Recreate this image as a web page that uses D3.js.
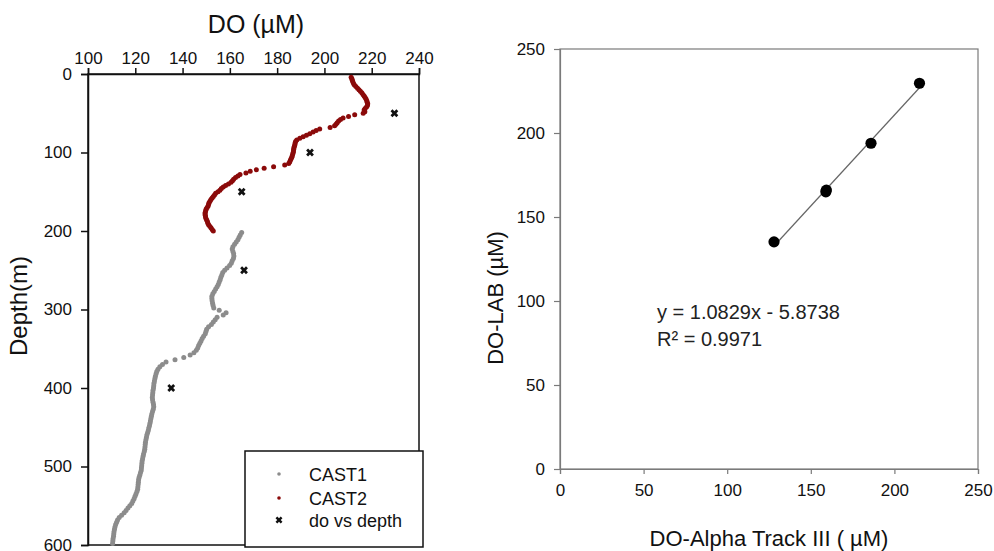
<!DOCTYPE html>
<html><head><meta charset="utf-8">
<script src="https://cdn.jsdelivr.net/npm/d3@7/dist/d3.min.js"></script>
<style>
body{margin:0;background:#fff;}
svg text{font-family:"Liberation Sans",Arial,sans-serif;}
</style></head>
<body><svg id="c" width="994" height="551"></svg>
<script>
// ---------- DATA ----------
// CAST2 profile: [depth (m), DO (µM)]
const cast2 = [[4,211.3],[6,211.6],[8,211.8],[10,212.0],[12,212.3],[14,212.7],[16,213.3],[18,214.0],[20,214.6],[22,215.2],[24,215.8],[26,216.3],[28,216.8],[30,217.2],[32,217.6],[34,217.9],[36,218.1],[38,218.3],[40,218.2],[42,217.8],[44,217.2],[46,216.8],[48,217.1],[50,216.4],[52,212.8],[54,210.2],[56,207.9],[58,206.8],[60,206.0],[62,205.4],[64,204.9],[66,204.3],[68,202.4],[70,198.0],[72,196.5],[74,195.2],[76,193.8],[78,192.4],[80,191.0],[82,189.6],[84,188.3],[86,187.8],[88,187.6],[90,187.5],[92,187.3],[94,187.1],[96,187.0],[98,186.9],[100,186.8],[102,186.6],[104,186.4],[106,186.2],[108,185.9],[110,185.6],[112,185.3],[114,184.9],[116,183.2],[118,178.5],[120,174.5],[122,171.2],[124,168.6],[126,166.8],[128,164.3],[130,163.4],[132,162.4],[134,161.6],[136,161.1],[138,160.5],[140,159.4],[142,158.2],[144,157.2],[146,156.4],[148,155.8],[150,155.0],[152,154.0],[154,153.5],[156,153.0],[158,152.5],[160,152.0],[162,151.6],[164,151.2],[166,151.0],[168,150.8],[170,150.4],[172,150.0],[174,149.8],[176,149.6],[178,149.5],[180,149.6],[182,149.7],[184,149.9],[186,150.2],[188,150.5],[190,150.7],[192,151.0],[194,151.5],[196,152.0],[198,152.5],[200,153.0]];
// CAST1 profile: [depth (m), DO (µM)]
const cast1 = [[202,165.0],[205,164.4],[208,163.9],[211,163.4],[214,162.7],[217,162.0],[220,161.3],[223,161.0],[226,161.3],[229,161.6],[232,161.7],[235,161.5],[238,161.0],[241,160.6],[244,159.9],[247,158.8],[250,157.8],[253,157.0],[256,156.6],[259,156.2],[262,155.9],[265,155.5],[268,155.1],[271,154.6],[274,154.0],[277,153.4],[280,152.8],[283,152.4],[286,152.4],[289,152.5],[292,152.7],[295,152.9],[298,153.2],[301,155.5],[304,158.4],[307,157.2],[310,154.6],[313,153.8],[316,153.0],[319,152.2],[322,151.0],[325,150.2],[328,149.9],[331,149.6],[334,148.9],[337,148.3],[340,147.8],[343,147.3],[346,146.8],[349,146.4],[352,145.8],[355,144.8],[358,143.2],[361,140.5],[364,136.8],[367,133.0],[370,131.5],[373,130.4],[376,129.6],[379,129.1],[382,128.8],[385,128.5],[388,128.3],[391,128.1],[394,127.9],[397,127.8],[400,127.7],[403,127.5],[406,127.4],[409,127.3],[412,127.2],[415,127.3],[418,127.5],[421,127.7],[424,127.8],[427,127.6],[430,127.3],[433,127.0],[436,126.8],[439,126.6],[442,126.4],[445,126.2],[448,126.0],[451,125.7],[454,125.5],[457,125.2],[460,124.9],[463,124.7],[466,124.5],[469,124.3],[472,124.2],[475,124.1],[478,124.0],[481,123.8],[484,123.5],[487,123.3],[490,123.1],[493,122.9],[496,122.8],[499,122.7],[502,122.6],[505,122.5],[508,122.2],[511,121.9],[514,121.6],[517,121.4],[520,121.3],[523,121.2],[526,121.1],[529,121.0],[532,120.7],[535,120.3],[538,119.9],[541,119.5],[544,119.0],[547,118.5],[550,117.7],[553,116.9],[556,116.1],[559,115.3],[562,114.2],[565,113.2],[568,112.5],[571,112.1],[574,111.7],[577,111.4],[580,111.2],[583,111.0],[586,110.9],[589,110.8],[592,110.6],[595,110.5],[598,110.4]];
// Lab samples ("do vs depth")
const labDepth = [50, 100, 150, 250, 400];
const labDO    = [229.6, 193.9, 165.0, 166.0, 135.2];
// Alpha Track III readings for the same samples
const alphaDO  = [215.0, 186.0, 159.0, 159.3, 128.0];
// Regression
const fitSlope = 1.0829, fitIntercept = -5.8738;
const fitLabel1 = "y = 1.0829x - 5.8738";
const fitLabel2 = "R² = 0.9971";
// Ticks
const leftXTicks = [100,120,140,160,180,200,220,240];
const leftYTicks = [0,100,200,300,400,500,600];
const rightTicks = [0,50,100,150,200,250];
const legendLabels = ["CAST1","CAST2","do vs depth"];

// ---------- DRAW ----------
const svg = d3.select("#c");
const C1 = "#8c8c8c", C2 = "#8b0a0a";

// Left panel
const lx = d3.scaleLinear().domain([100,240]).range([88,419]);
const ly = d3.scaleLinear().domain([0,600]).range([74,545]);
const L = svg.append("g");
L.append("rect").attr("x",lx(100)).attr("y",ly(0)).attr("width",lx(240)-lx(100)).attr("height",ly(600)-ly(0))
  .attr("fill","none").attr("stroke","#111").attr("stroke-width",1.5);
const ax1 = L.append("g").attr("transform",`translate(0,${ly(0)})`)
  .call(d3.axisTop(lx).tickValues(leftXTicks).tickSize(6).tickPadding(4));
const ay1 = L.append("g").attr("transform",`translate(${lx(100)},0)`)
  .call(d3.axisLeft(ly).tickValues(leftYTicks).tickSize(7).tickPadding(9));
[ax1,ay1].forEach(a=>{
  a.select(".domain").attr("stroke","#111").attr("stroke-width",1.5);
  a.selectAll(".tick line").attr("stroke","#111").attr("stroke-width",1.5);
  a.selectAll(".tick text").attr("font-size",17).attr("fill","#111").style("font-family","Liberation Sans, Arial");
});
L.append("text").attr("x",256).attr("y",33).attr("text-anchor","middle").attr("font-size",25).attr("fill","#111").text("DO (µM)");
L.append("text").attr("transform","translate(27,306) rotate(-90)").attr("text-anchor","middle").attr("font-size",24).attr("fill","#111").text("Depth(m)");

L.append("g").selectAll("circle").data(cast1).join("circle")
  .attr("cx",d=>lx(d[1])).attr("cy",d=>ly(d[0])).attr("r",2.5).attr("fill",C1);
L.append("g").selectAll("circle").data(cast2).join("circle")
  .attr("cx",d=>lx(d[1])).attr("cy",d=>ly(d[0])).attr("r",2.5).attr("fill",C2);
const xsym = d3.symbol().type(d3.symbolCross).size(38);
L.append("g").selectAll("path").data(labDepth).join("path")
  .attr("d",xsym).attr("fill","#111")
  .attr("transform",(d,i)=>`translate(${lx(labDO[i])},${ly(d)}) rotate(45)`);

// legend
const lg = L.append("g");
lg.append("rect").attr("x",245).attr("y",451).attr("width",178).attr("height",96)
  .attr("fill","#fff").attr("stroke","#111").attr("stroke-width",1.5);
const legY = [474,498,520];
legendLabels.forEach((t,i)=>{
  if(i<2) lg.append("circle").attr("cx",279).attr("cy",legY[i]).attr("r",1.8).attr("fill",i==0?C1:C2);
  else lg.append("path").attr("d",d3.symbol().type(d3.symbolCross).size(30)).attr("fill","#111")
        .attr("transform",`translate(279,${legY[i]}) rotate(45)`);
  lg.append("text").attr("x",309).attr("y",legY[i]+6.5).attr("font-size",18).attr("fill","#111").text(t);
});

// Right panel
const rx = d3.scaleLinear().domain([0,250]).range([560,978]);
const ry = d3.scaleLinear().domain([0,250]).range([469,49]);
const R = svg.append("g");
R.append("rect").attr("x",rx(0)).attr("y",ry(250)).attr("width",rx(250)-rx(0)).attr("height",ry(0)-ry(250))
  .attr("fill","none").attr("stroke","#7a7a7a").attr("stroke-width",1.2);
const ax2 = R.append("g").attr("transform",`translate(0,${ry(0)})`)
  .call(d3.axisBottom(rx).tickValues(rightTicks).tickSize(5).tickPadding(10));
const ay2 = R.append("g").attr("transform",`translate(${rx(0)},0)`)
  .call(d3.axisLeft(ry).tickValues(rightTicks).tickSize(6).tickPadding(9));
[ax2,ay2].forEach(a=>{
  a.select(".domain").attr("stroke","#7a7a7a").attr("stroke-width",1.2);
  a.selectAll(".tick line").attr("stroke","#7a7a7a").attr("stroke-width",1.2);
  a.selectAll(".tick text").attr("font-size",17).attr("fill","#111").style("font-family","Liberation Sans, Arial");
});
R.append("text").attr("x",769).attr("y",546).attr("text-anchor","middle").attr("font-size",22).attr("fill","#111").text("DO-Alpha Track III ( µM)");
R.append("text").attr("transform","translate(503,298) rotate(-90)").attr("text-anchor","middle").attr("font-size",22).attr("fill","#111").text("DO-LAB (µM)");

const xmin = d3.min(alphaDO), xmax = d3.max(alphaDO);
R.append("line").attr("x1",rx(xmin)).attr("y1",ry(fitSlope*xmin+fitIntercept))
  .attr("x2",rx(xmax)).attr("y2",ry(fitSlope*xmax+fitIntercept))
  .attr("stroke","#666").attr("stroke-width",1.2);
R.append("g").selectAll("circle").data(alphaDO).join("circle")
  .attr("cx",d=>rx(d)).attr("cy",(d,i)=>ry(labDO[i])).attr("r",5.6).attr("fill","#000");
R.append("text").attr("x",657).attr("y",319).attr("font-size",20).attr("fill","#222").text(fitLabel1);
R.append("text").attr("x",657).attr("y",346).attr("font-size",20).attr("fill","#222").text(fitLabel2);
</script></body></html>
